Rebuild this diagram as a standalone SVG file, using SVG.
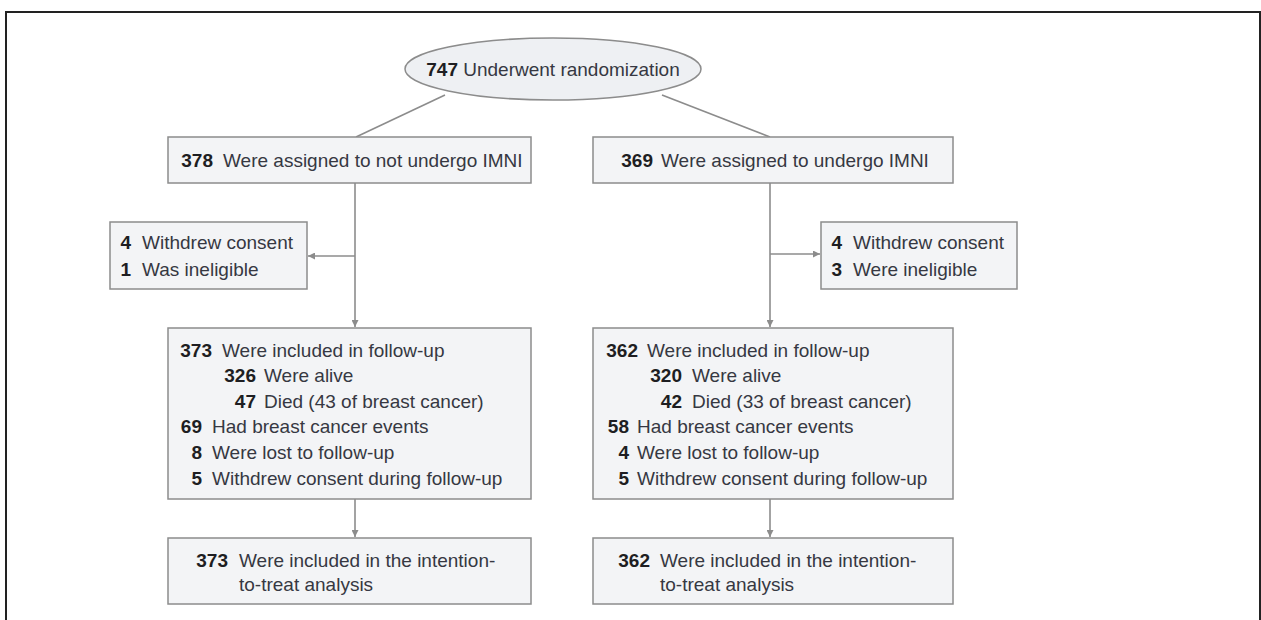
<svg xmlns="http://www.w3.org/2000/svg" width="1261" height="620" viewBox="0 0 1261 620">
<style>
.box{fill:#f3f4f6;stroke:#8c8c8c;stroke-width:1.5}
.t{font-family:"Liberation Sans",Arial,sans-serif;font-size:19px;fill:#363842}
.n{font-family:"Liberation Sans",Arial,sans-serif;font-size:19px;font-weight:bold;fill:#1e1e22;text-anchor:end}
.c{fill:none;stroke:#8c8c8c;stroke-width:1.6}
</style>
<defs>
<marker id="ah" viewBox="0 0 10 10" refX="10" refY="5" markerWidth="7" markerHeight="7" markerUnits="userSpaceOnUse" orient="auto">
<path d="M0,0 L10,5 L0,10 z" fill="#8c8c8c"/>
</marker>
</defs>
<rect x="0" y="0" width="1261" height="620" fill="#ffffff"/>
<rect x="6" y="12" width="1254" height="640" fill="none" stroke="#222" stroke-width="2"/>
<g id="connectors">
<line class="c" x1="445" y1="95" x2="356" y2="137"/>
<line class="c" x1="662" y1="95" x2="770" y2="137"/>
<line class="c" x1="355" y1="183" x2="355" y2="327" marker-end="url(#ah)"/>
<line class="c" x1="355" y1="256" x2="308" y2="256" marker-end="url(#ah)"/>
<line class="c" x1="770" y1="183" x2="770" y2="327" marker-end="url(#ah)"/>
<line class="c" x1="770" y1="254" x2="820" y2="254" marker-end="url(#ah)"/>
<line class="c" x1="355" y1="499" x2="355" y2="537" marker-end="url(#ah)"/>
<line class="c" x1="770" y1="499" x2="770" y2="537" marker-end="url(#ah)"/>
</g>
<g id="randomization">
<ellipse cx="553" cy="69" rx="148" ry="31" fill="#eef0f3" stroke="#8c8c8c" stroke-width="1.5"/>
<text class="t" x="553" y="76" text-anchor="middle"><tspan font-weight="bold" fill="#1e1e22">747</tspan> Underwent randomization</text>
</g>
<g id="assigned-not">
<rect class="box" x="168" y="137" width="363" height="46"/>
<text class="n" x="213" y="167">378</text>
<text class="t" x="223" y="167">Were assigned to not undergo IMNI</text>
</g>
<g id="assigned-imni">
<rect class="box" x="593" y="137" width="360" height="46"/>
<text class="n" x="653" y="167">369</text>
<text class="t" x="661" y="167">Were assigned to undergo IMNI</text>
</g>
<g id="excluded-left">
<rect class="box" x="110" y="222" width="197" height="67"/>
<text class="n" x="131" y="249">4</text>
<text class="t" x="142" y="249">Withdrew consent</text>
<text class="n" x="131" y="276">1</text>
<text class="t" x="142" y="276">Was ineligible</text>
</g>
<g id="excluded-right">
<rect class="box" x="821" y="222" width="196" height="67"/>
<text class="n" x="842" y="249">4</text>
<text class="t" x="853" y="249">Withdrew consent</text>
<text class="n" x="842" y="276">3</text>
<text class="t" x="853" y="276">Were ineligible</text>
</g>
<g id="followup-left">
<rect class="box" x="168" y="328" width="363" height="171"/>
<text class="n" x="212" y="357">373</text>
<text class="t" x="222" y="357">Were included in follow-up</text>
<text class="n" x="256" y="382">326</text>
<text class="t" x="264" y="382">Were alive</text>
<text class="n" x="256" y="408">47</text>
<text class="t" x="264" y="408">Died (43 of breast cancer)</text>
<text class="n" x="202" y="433">69</text>
<text class="t" x="212" y="433">Had breast cancer events</text>
<text class="n" x="202" y="459">8</text>
<text class="t" x="212" y="459">Were lost to follow-up</text>
<text class="n" x="202" y="485">5</text>
<text class="t" x="212" y="485">Withdrew consent during follow-up</text>
</g>
<g id="followup-right">
<rect class="box" x="593" y="328" width="360" height="171"/>
<text class="n" x="638" y="357">362</text>
<text class="t" x="647" y="357">Were included in follow-up</text>
<text class="n" x="682" y="382">320</text>
<text class="t" x="692" y="382">Were alive</text>
<text class="n" x="682" y="408">42</text>
<text class="t" x="692" y="408">Died (33 of breast cancer)</text>
<text class="n" x="629" y="433">58</text>
<text class="t" x="637" y="433">Had breast cancer events</text>
<text class="n" x="629" y="459">4</text>
<text class="t" x="637" y="459">Were lost to follow-up</text>
<text class="n" x="629" y="485">5</text>
<text class="t" x="637" y="485">Withdrew consent during follow-up</text>
</g>
<g id="itt-left">
<rect class="box" x="168" y="538" width="363" height="66"/>
<text class="n" x="228" y="567">373</text>
<text class="t" x="239" y="567">Were included in the intention-</text>
<text class="t" x="239" y="591">to-treat analysis</text>
</g>
<g id="itt-right">
<rect class="box" x="593" y="538" width="360" height="66"/>
<text class="n" x="650" y="567">362</text>
<text class="t" x="660" y="567">Were included in the intention-</text>
<text class="t" x="660" y="591">to-treat analysis</text>
</g>
</svg>
